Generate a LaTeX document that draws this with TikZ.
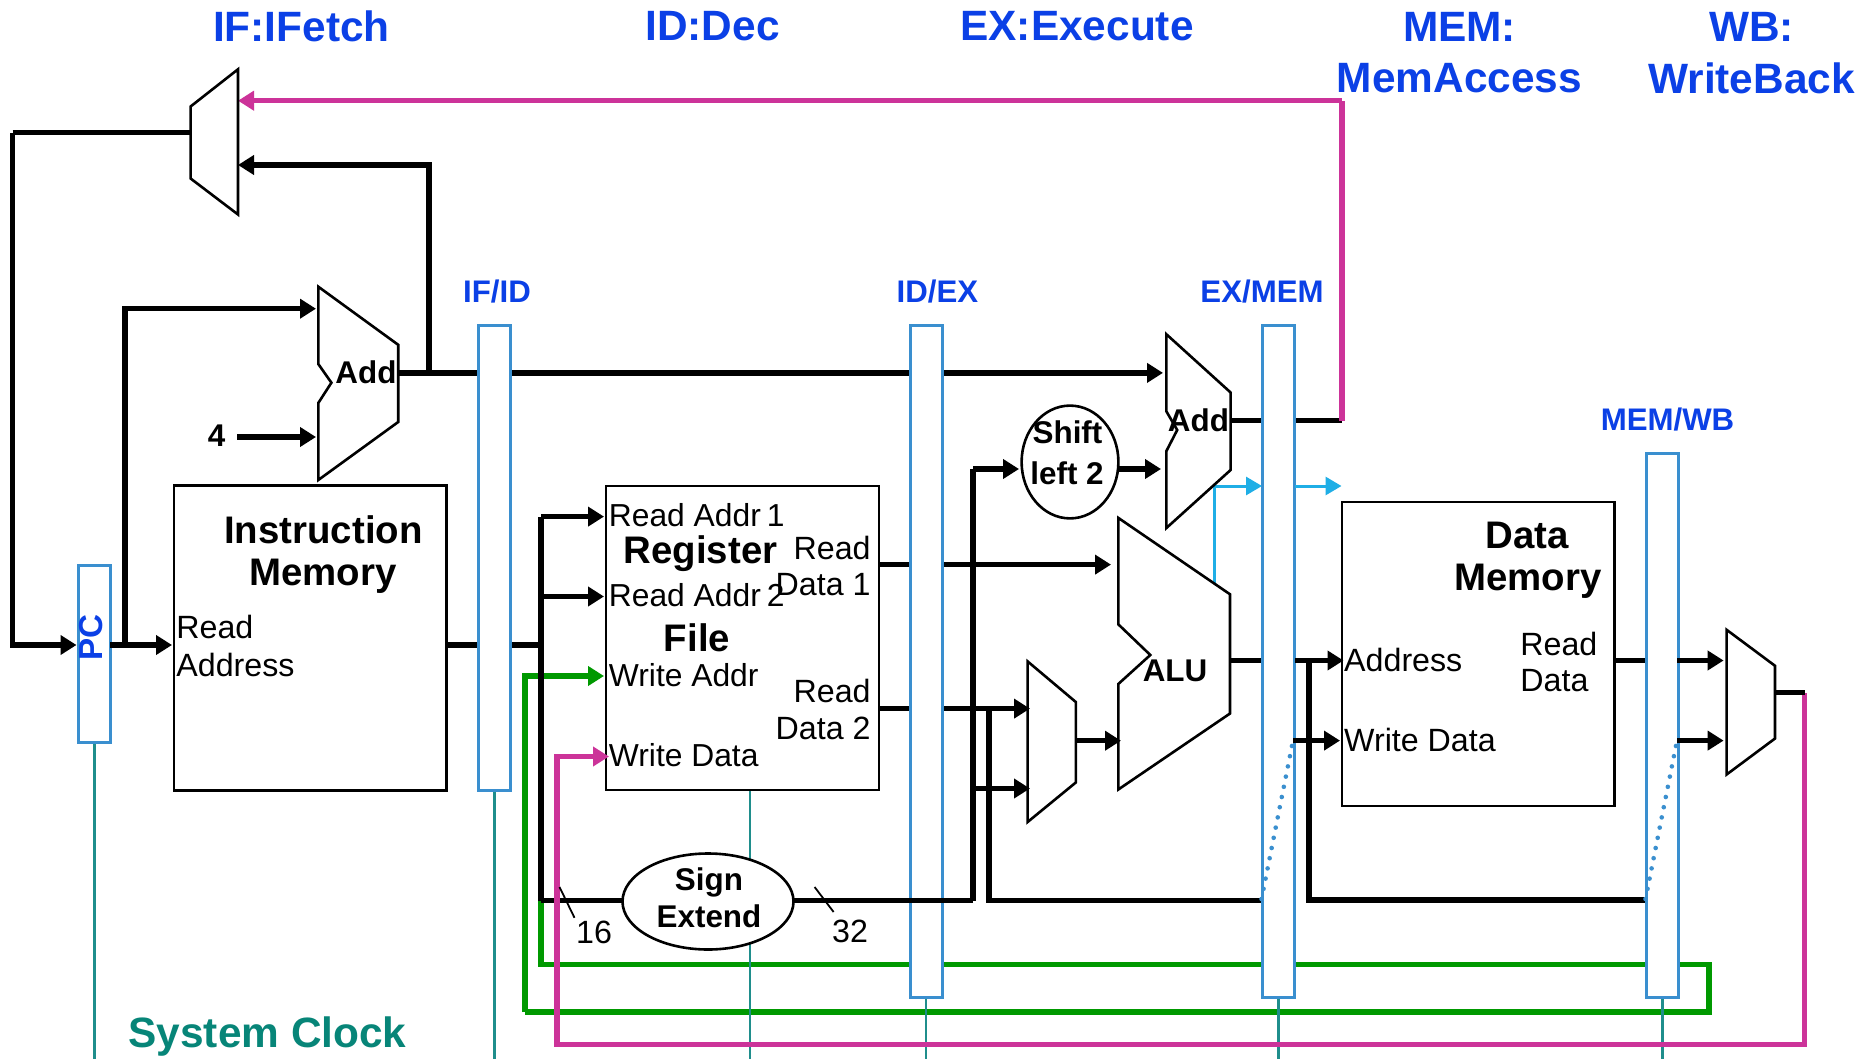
\documentclass[tikz,border=0pt]{standalone}
\usepackage{fontspec}
\setmainfont{Liberation Sans}
\usetikzlibrary{arrows.meta,shapes.geometric}
\definecolor{lblue}{HTML}{0B40E6}
\definecolor{regblue}{HTML}{3A8FCF}
\definecolor{clockteal}{HTML}{1F8E8C}
\definecolor{sysclock}{HTML}{078578}
\definecolor{wgreen}{HTML}{009900}
\definecolor{wmag}{HTML}{CC3399}
\definecolor{wcyan}{HTML}{1FAEE6}
\tikzset{
  x=0.5pt,y=-0.5pt,
  wire/.style={line width=2.6pt,draw=black},
  arw/.style={-{Triangle[length=8pt,width=9.5pt]}},
  green wire/.style={line width=2.6pt,draw=wgreen},
  mag wire/.style={line width=2.6pt,draw=wmag},
  cyan wire/.style={line width=1.5pt,draw=wcyan},
  cyanarw/.style={-{Triangle[length=8pt,width=9pt]}},
  reg/.style={draw=regblue,line width=1.5pt,fill=white,inner sep=0pt,minimum width=16.2pt},
  clk/.style={draw=clockteal,line width=1.2pt},
  unit/.style={draw=black,line width=1.4pt,inner sep=0pt},
  shapeline/.style={draw=black,line width=1.3pt,line join=miter},
  oval/.style={ellipse,draw=black,line width=1.3pt,fill=white,inner sep=0pt},
  tick/.style={draw=black,line width=0.9pt},
  dots/.style={draw=regblue,line width=2.3pt,line cap=round,dash pattern=on 0pt off 5.2pt},
  txt/.style={inner sep=0pt,font=\fontsize{16.1}{18}\selectfont},
  rftxt/.style={inner sep=0pt,font=\fontsize{15.9}{18}\selectfont},
  btxt/.style={inner sep=0pt,font=\fontsize{15.7}{18}\selectfont\bfseries},
  title/.style={inner sep=0pt,font=\fontsize{19.2}{22}\selectfont\bfseries},
  stage/.style={inner sep=0pt,text=lblue,font=\fontsize{21.2}{24}\selectfont\bfseries},
  reglabel/.style={inner sep=0pt,text=lblue,font=\fontsize{15.6}{17}\selectfont\bfseries},
}
\begin{document}
\begin{tikzpicture}
\useasboundingbox (0,0) rectangle (1862,1059);
\fill[white] (0,0) rectangle (1862,1059);

% junction coordinates
\coordinate (bot) at (0,1059);
\coordinate (trunkTop) at (12.7,132.9);
\coordinate (trunkBot) at (12.7,645);
\coordinate (pcTap) at (125,645);
\coordinate (addInTopL) at (125,308.7);
\coordinate (addInTop) at (316,308.7);
\coordinate (fourStart) at (237,437);
\coordinate (fourEnd) at (316,437);
\coordinate (pcOut) at (110,645);
\coordinate (imIn) at (172,645);
\coordinate (muxTopOut) at (190.6,132.9);
\coordinate (pcIn) at (76.5,645);
\coordinate (muxBlackIn) at (238,165);
\coordinate (addTapTop) at (429,165);
\coordinate (addTap) at (429,372.9);
\coordinate (addOut) at (398,372.9);
\coordinate (add2InA) at (1163,372.9);
\coordinate (muxMagIn) at (238,100.7);
\coordinate (magCorner) at (1342,100.7);
\coordinate (add2Corner) at (1342,420.7);
\coordinate (add2Out) at (1230.6,420.7);
\coordinate (imOut) at (447,645);
\coordinate (busT) at (541,645);
\coordinate (bus1) at (541,516.6);
\coordinate (bus1e) at (604,516.6);
\coordinate (bus2) at (541,596.5);
\coordinate (bus2e) at (604,596.5);
\coordinate (busB) at (541,900.5);
\coordinate (g1) at (604,676);
\coordinate (g2) at (525,676);
\coordinate (g3) at (525,1012);
\coordinate (g4) at (1709,1012);
\coordinate (g5) at (1709,964.5);
\coordinate (g6) at (541,964.5);
\coordinate (m1) at (609,756.5);
\coordinate (m2) at (557,756.5);
\coordinate (m3) at (557,1044.7);
\coordinate (m4) at (1804.7,1044.7);
\coordinate (m5) at (1804.7,692.8);
\coordinate (wbOut) at (1775,692.8);
\coordinate (s2) at (973,900.5);
\coordinate (s3) at (973,469);
\coordinate (s4) at (1019,469);
\coordinate (s5) at (973,788.5);
\coordinate (s6) at (1030,788.5);
\coordinate (s7) at (989,708.6);
\coordinate (s8) at (989,900.5);
\coordinate (s9) at (1262,900.5);
\coordinate (rd1a) at (879,564.6);
\coordinate (rd1b) at (1111,564.6);
\coordinate (rd2a) at (879,708.6);
\coordinate (rd2b) at (1030,708.6);
\coordinate (mxo) at (1075.8,740.7);
\coordinate (mxi) at (1121,740.7);
\coordinate (shOut) at (1114,469);
\coordinate (shIn) at (1161,469);
\coordinate (aluOut) at (1230,660.5);
\coordinate (aluStub) at (1266,660.5);
\coordinate (cy1) at (1214,583.6);
\coordinate (cy2) at (1214,486);
\coordinate (cy3) at (1262,486);
\coordinate (cy4) at (1295,486);
\coordinate (cy5) at (1341.5,486);
\coordinate (adrS) at (1295,660.5);
\coordinate (adrE) at (1343.5,660.5);
\coordinate (v1) at (1309,660.5);
\coordinate (v2) at (1309,900);
\coordinate (v3) at (1646,900);
\coordinate (wdS) at (1293,740.6);
\coordinate (wdE) at (1340,740.6);
\coordinate (dmOut) at (1615,660.5);
\coordinate (dmStub) at (1650,660.5);
\coordinate (wb1S) at (1677,660.5);
\coordinate (wb1E) at (1723.6,660.5);
\coordinate (wb2S) at (1677,740.6);
\coordinate (wb2E) at (1723.6,740.6);
\coordinate (d1a) at (1261.5,899);
\coordinate (d1b) at (1293,740.6);
\coordinate (d2a) at (1645.5,899);
\coordinate (d2b) at (1677,740.6);
\coordinate (rfClk) at (750,790);

% wires that run behind the registers
\draw[green wire,arw,line join=miter] (g3) -- (g2) -- (g1);
\draw[green wire] (busB) -- (g6) -- (g5) -- (g4) -- (g3);
\draw[wire] (imOut) -- (busT);
\draw[wire,arw] (addOut) -- (add2InA);
\draw[wire] (add2Out) -- (add2Corner);
\draw[wire] (aluOut) -- (aluStub);
\draw[wire,arw] (rd1a) -- (rd1b);
\draw[wire,arw] (rd2a) -- (rd2b);
\draw[wire] (dmOut) -- (dmStub);
\draw[wire] (s2) -- (s3);
\draw[wire,arw] (s3) -- (s4);
\draw[wire,arw] (s5) -- (s6);
\draw[wire] (s7) -- (s8) -- (s9);
\draw[wire] (v1) -- (v2) -- (v3);

% registers
\path (94.3,654) node[reg,minimum height=88.5pt] (pc) {};
\path (494.3,557.7) node[reg,minimum height=232.4pt] (ifid) {};
\path (926.2,661.3) node[reg,minimum height=335.9pt] (idex) {};
\path (1278.5,661.3) node[reg,minimum height=335.9pt] (exmem) {};
\path (1662.4,725.3) node[reg,minimum height=271.9pt] (memwb) {};

% clock lines
\draw[clk] (pc.south) -- (pc.south |- bot);
\draw[clk] (ifid.south) -- (ifid.south |- bot);
\draw[clk] (idex.south) -- (idex.south |- bot);
\draw[clk] (exmem.south) -- (exmem.south |- bot);
\draw[clk] (memwb.south) -- (memwb.south |- bot);
\draw[clk] (rfClk) -- (rfClk |- bot);

% memory and register-file boxes
\path (310.4,638) node[unit,minimum width=136.4pt,minimum height=152.2pt] (imem) {};
\path (742.5,638) node[unit,minimum width=136.5pt,minimum height=152pt] (regfile) {};
\path (1478.4,654) node[unit,minimum width=136.4pt,minimum height=152pt] (dmem) {};

% wires to the memories and units
\draw[wire] (trunkTop) -- (muxTopOut);
\draw[wire,arw] (trunkTop) -- (trunkBot) -- (pcIn);
\draw[wire,arw] (pcOut) -- (imIn);
\draw[wire,arw] (pcTap) -- (addInTopL) -- (addInTop);
\draw[wire,arw] (fourStart) -- (fourEnd);
\draw[wire,arw] (addTap) -- (addTapTop) -- (muxBlackIn);
\draw[wire] (bus1) -- (busB);
\draw[wire,arw] (bus1) -- (bus1e);
\draw[wire,arw] (bus2) -- (bus2e);
\draw[wire] (busB) -- (s2);
\draw[mag wire] (add2Corner) -- (magCorner);
\draw[mag wire,arw] (magCorner) -- (muxMagIn);
\draw[mag wire,arw] (m5) -- (m4) -- (m3) -- (m2) -- (m1);
\draw[wire] (wbOut) -- (m5);
\draw[wire,arw] (mxo) -- (mxi);
\draw[wire,arw] (shOut) -- (shIn);
\draw[cyan wire] (cy1) -- (cy2);
\draw[cyan wire,cyanarw] (cy2) -- (cy3);
\draw[cyan wire,cyanarw] (cy4) -- (cy5);
\draw[wire,arw] (adrS) -- (adrE);
\draw[wire,arw] (wdS) -- (wdE);
\draw[wire,arw] (wb1S) -- (wb1E);
\draw[wire,arw] (wb2S) -- (wb2E);
\draw[dots] (d1a) -- (d1b);
\draw[dots] (d2a) -- (d2b);

% muxes, adders, ALU
\draw[shapeline] (238,69.3) -- (190.6,106.5) -- (190.6,178.5) -- (238,214.5) -- cycle;
\draw[shapeline] (318.3,286.7) -- (398.2,344.8) -- (398.2,422) -- (318.3,480) -- (318.3,403) -- (331.4,382.7) -- (318.3,364) -- cycle;
\draw[shapeline] (1166.4,334.3) -- (1230.6,392.5) -- (1230.6,470) -- (1166.4,528) -- (1166.4,451) -- (1177.2,430) -- (1166.4,411.4) -- cycle;
\draw[shapeline] (1118.3,517.9) -- (1230,594.3) -- (1230,713.5) -- (1118.3,789.5) -- (1118.3,684) -- (1150.3,655) -- (1118.3,624.3) -- cycle;
\draw[shapeline] (1027.6,661.4) -- (1075.8,702) -- (1075.8,782.5) -- (1027.6,822) -- cycle;
\draw[shapeline] (1726.6,629.8) -- (1775,665.8) -- (1775,738.5) -- (1726.6,774.5) -- cycle;

% ovals
\path (708,901.5) node[oval,minimum width=85.5pt,minimum height=48pt] (sign) {};
\path (1070,462) node[oval,minimum width=48.4pt,minimum height=56.4pt] (shift) {};

% bit-width ticks
\coordinate (t1a) at (559.5,887);
\coordinate (t1b) at (574.5,917.8);
\coordinate (t2a) at (814.6,887);
\coordinate (t2b) at (833.6,912);
\draw[tick] (t1a) -- (t1b);
\draw[tick] (t2a) -- (t2b);

% labels
\path (301.5,26) node[stage] (sIF) {IF:IFetch};
\path (712.5,26.5) node[stage] (sID) {ID:Dec};
\path (1077,26.5) node[stage] (sEX) {EX:Execute};
\path (1459.5,26.5) node[stage] (sMEMa) {MEM:};
\path (1459.5,78) node[stage] (sMEMb) {MemAccess};
\path (1751.6,26.5) node[stage] (sWBa) {WB:};
\path (1751.6,78) node[stage] (sWBb) {WriteBack};

\path (497,291.5) node[reglabel] (lIFID) {IF/ID};
\path (937.4,291.5) node[reglabel] (lIDEX) {ID/EX};
\path (1262,291.5) node[reglabel] (lEXMEM) {EX/MEM};
\path (1667.5,419.5) node[reglabel] (lMEMWB) {MEM/WB};
\path (91,637.5) node[inner sep=0pt,text=lblue,rotate=90,font=\fontsize{16.6}{19}\selectfont\bfseries] (lPC) {PC};

\path (267.5,1036.5) node[inner sep=0pt,text=sysclock,font=\fontsize{21.2}{24}\selectfont\bfseries] (lClock) {System Clock};

\path (366,372) node[btxt] (tAdd) {Add};
\path (1198.5,420) node[btxt] (tAdd2) {Add};
\path (1175,671) node[btxt] (tALU) {ALU};
\path (216.7,436) node[btxt] (tFour) {4};
\path (1067.5,432) node[btxt] (tShift) {Shift};
\path (1067,473) node[btxt] (tLeft) {left 2};
\path (709,882) node[btxt] (tSign) {Sign};
\path (709,916) node[btxt] (tExt) {Extend};

\path (323.5,530) node[title] (tIM1) {Instruction};
\path (323,576.5) node[title] (tIM2) {Memory};
\path (176,627) node[txt,anchor=west] (tRA1) {Read};
\path (176,664.5) node[txt,anchor=west] (tRA2) {Address};

\path (700.6,554) node[title] (tRF1) {Register};
\path (697,638) node[title] (tRF2) {File};
\path (608.5,515.4) node[rftxt,anchor=west] (tR1) {Read Addr\hspace{-1.4pt} 1};
\path (608.5,595.5) node[rftxt,anchor=west] (tR2) {Read Addr\hspace{-1.4pt} 2};
\path (608.5,675.5) node[rftxt,anchor=west] (tWA) {Write Addr};
\path (608.5,755.5) node[rftxt,anchor=west] (tWD) {Write Data};
\path (871,548) node[txt,anchor=east] (tD1a) {Read};
\path (871,585) node[txt,anchor=east] (tD1b) {Data 1};
\path (871,691) node[txt,anchor=east] (tD2a) {Read};
\path (871,728.5) node[txt,anchor=east] (tD2b) {Data 2};

\path (594,932) node[txt] (t16) {16};
\path (850,931) node[txt] (t32) {32};

\path (1527,535.5) node[title] (tDM1) {Data};
\path (1528,581.5) node[title] (tDM2) {Memory};
\path (1343.8,659.5) node[txt,anchor=west] (tAd) {Address};
\path (1343.8,740) node[txt,anchor=west] (tWr) {Write Data};
\path (1520,643.5) node[txt,anchor=west] (tRd1) {Read};
\path (1520,680.5) node[txt,anchor=west] (tRd2) {Data};
\end{tikzpicture}
\end{document}
